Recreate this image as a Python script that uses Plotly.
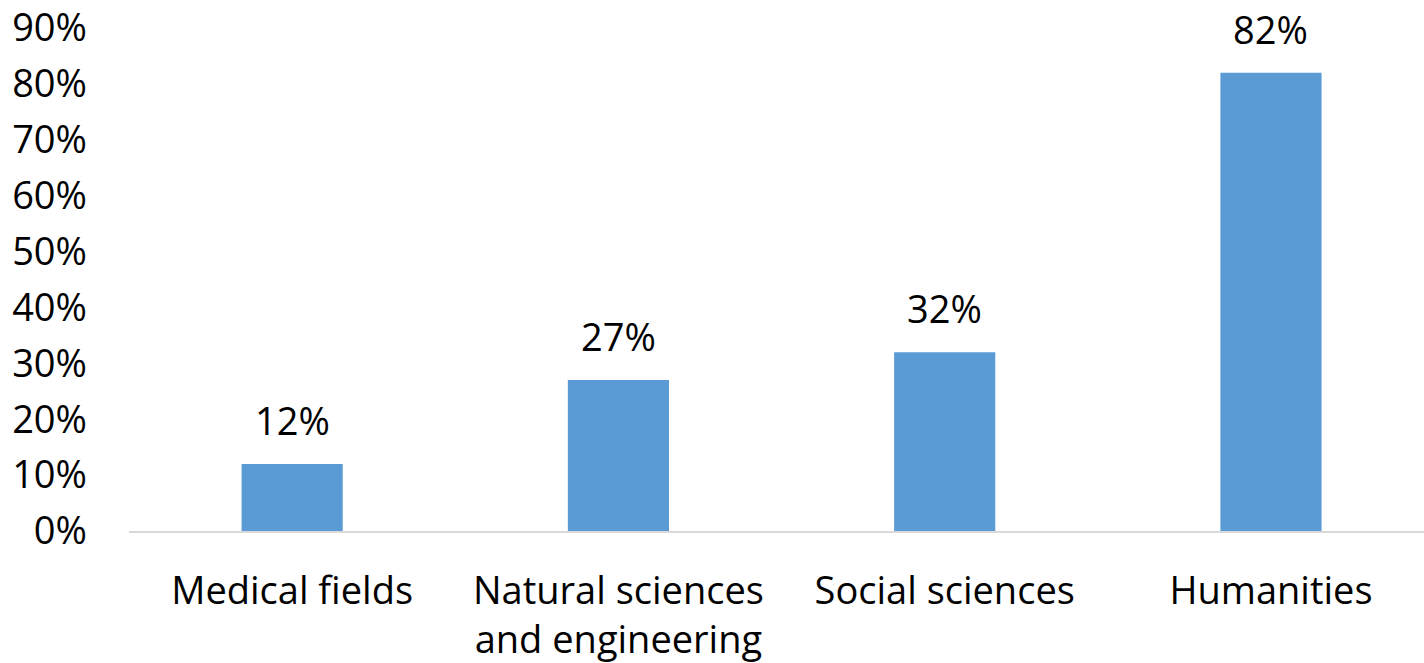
import plotly.graph_objects as go

categories = ["Medical fields", "Natural sciences<br>and engineering", "Social sciences", "Humanities"]
shares = [0.12, 0.27, 0.32, 0.82]
tick_values = [0, 0.1, 0.2, 0.3, 0.4, 0.5, 0.6, 0.7, 0.8, 0.9]
tick_labels = ["0%", "10%", "20%", "30%", "40%", "50%", "60%", "70%", "80%", "90%"]

FONT = "Open Sans"
SIZE = 38
TEXT_COLOR = "#000000"
BAR_COLOR = "#5B9BD5"

fig = go.Figure(
    go.Bar(
        x=list(range(len(categories))),
        y=shares,
        width=0.31,
        marker=dict(color=BAR_COLOR, line=dict(width=0)),
        hoverinfo="skip",
    )
)

# Percentage labels above each bar
for i, v in enumerate(shares):
    fig.add_annotation(
        x=i, y=v, text=f"{round(v * 100)}%",
        showarrow=False, yanchor="bottom", yshift=16,
        font=dict(family=FONT, size=SIZE, color=TEXT_COLOR),
    )

fig.update_layout(
    width=1424, height=663,
    margin=dict(l=129, r=0, t=28, b=132),
    paper_bgcolor="white", plot_bgcolor="white",
    showlegend=False,
    font=dict(family=FONT, size=SIZE, color=TEXT_COLOR),
    xaxis=dict(
        range=[-0.5, 3.469],
        tickmode="array",
        tickvals=list(range(len(categories))),
        ticktext=categories,
        showgrid=False, zeroline=False,
        showline=True, linecolor="#D9D9D9", linewidth=2,
        ticks="", ticklabelstandoff=25, automargin=False,
        tickfont=dict(family=FONT, size=SIZE, color=TEXT_COLOR),
    ),
    yaxis=dict(
        range=[0, 0.9],
        tickmode="array",
        tickvals=tick_values,
        ticktext=tick_labels,
        showgrid=False, zeroline=False, showline=False,
        ticks="", ticklabelstandoff=41, automargin=False,
        tickfont=dict(family=FONT, size=SIZE, color=TEXT_COLOR),
    ),
)

fig.write_html("out.html")
